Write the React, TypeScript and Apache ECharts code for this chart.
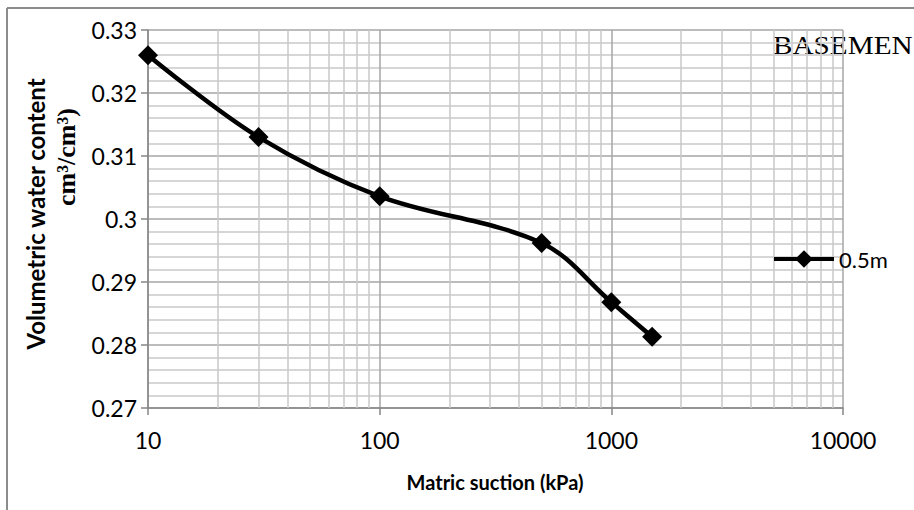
import React, { useEffect, useRef } from "react";
import * as echarts from "echarts";

const seriesName = "0.5m";
const suction = [10, 30, 100, 500, 1000, 1500];
const waterContent = [0.326, 0.313, 0.3036, 0.2962, 0.2868, 0.2813];
const minorXGrid = [20, 30, 40, 50, 60, 70, 80, 90, 200, 300, 400, 500, 600, 700, 800, 900, 2000, 3000, 4000, 5000, 6000, 7000, 8000, 9000];
const xTitle = "Matric suction (kPa)";
const yTitle1 = "Volumetric water content";
const yTitle2 = "cm³/cm³)";
const cornerText = "BASEMEN";

export default function App() {
  const ref = useRef<HTMLDivElement>(null);
  useEffect(() => {
    const chart = echarts.init(ref.current!, null, { renderer: "svg" });
    const sans = "Lato, 'Open Sans', sans-serif";
    chart.setOption({
      animation: false,
      backgroundColor: "#ffffff",
      grid: { left: 148, top: 30, width: 695, height: 378 },
      legend: {
        left: 772,
        top: 248,
        padding: 0,
        itemWidth: 60,
        itemHeight: 22,
        itemGap: 5,
        lineStyle: { width: 4, color: "#000" },
        textStyle: { fontFamily: sans, fontSize: 22, color: "#000" },
        data: [seriesName],
      },
      xAxis: {
        type: "log",
        logBase: 10,
        min: 10,
        max: 10000,
        axisLine: { show: true, lineStyle: { color: "#868686", width: 1.5 } },
        axisTick: { show: true, length: 7, lineStyle: { color: "#868686", width: 1.5 } },
        axisLabel: { margin: 20, fontFamily: sans, fontSize: 23, color: "#000", formatter: (v: number) => String(Math.round(v)) },
        splitLine: { show: true, lineStyle: { color: "#a6a6a6", width: 1.5 } },
        minorTick: { show: false },
        minorSplitLine: { show: false },
      },
      yAxis: {
        type: "value",
        min: 0.27,
        max: 0.33,
        interval: 0.01,
        axisLine: { show: true, lineStyle: { color: "#868686", width: 1.5 } },
        axisTick: { show: true, length: 7, lineStyle: { color: "#868686", width: 1.5 } },
        axisLabel: { margin: 11, fontFamily: sans, fontSize: 23, color: "#000", formatter: (v: number) => String(Math.round(v * 100) / 100) },
        splitLine: { show: true, lineStyle: { color: "#a6a6a6", width: 1.5 } },
        minorTick: { show: false, splitNumber: 5 },
        minorSplitLine: { show: true, lineStyle: { color: "#c8c8c8", width: 1.5 } },
      },
      series: [
        {
          name: seriesName,
          type: "line",
          smooth: 0.35,
          data: suction.map((s, i) => [s, waterContent[i]]),
          symbol: "diamond",
          symbolSize: 20,
          itemStyle: { color: "#000" },
          lineStyle: { color: "#000", width: 4.5 },
          z: 5,
          markLine: {
            silent: true,
            symbol: "none",
            label: { show: false },
            lineStyle: { color: "#c8c8c8", width: 1.5, type: "solid" },
            data: minorXGrid.map((v) => ({ xAxis: v })),
            z: 1,
          },
        },
      ],
      graphic: [
        { type: "line", shape: { x1: 7, y1: 8, x2: 914, y2: 8 }, style: { stroke: "#8c8c8c", lineWidth: 2 } },
        { type: "line", shape: { x1: 7, y1: 8, x2: 7, y2: 510 }, style: { stroke: "#8c8c8c", lineWidth: 2 } },
        {
          type: "text",
          x: 495,
          y: 482,
          style: { text: xTitle, fontFamily: sans, fontWeight: "bold", fontSize: 20, fill: "#000", align: "center", verticalAlign: "middle" },
        },
        {
          type: "text",
          x: 35,
          y: 214,
          rotation: Math.PI / 2,
          style: { text: yTitle1, fontFamily: sans, fontWeight: "bold", fontSize: 24, fill: "#000", align: "center", verticalAlign: "middle" },
        },
        {
          type: "text",
          x: 66,
          y: 157,
          rotation: Math.PI / 2,
          style: { text: yTitle2, fontFamily: "'Liberation Serif', 'Times New Roman', serif", fontWeight: "bold", fontSize: 26, fill: "#000", align: "center", verticalAlign: "middle" },
        },
        {
          type: "text",
          x: 773,
          y: 46,
          scaleX: 1.17,
          style: { text: cornerText, fontFamily: "'Liberation Serif', 'Times New Roman', serif", fontSize: 25, fill: "#000", align: "left", verticalAlign: "middle" },
        },
      ],
    });
    return () => chart.dispose();
  }, []);
  return <div ref={ref} style={{ position: "absolute", left: 0, top: 0, width: 914, height: 510 }} />;
}
